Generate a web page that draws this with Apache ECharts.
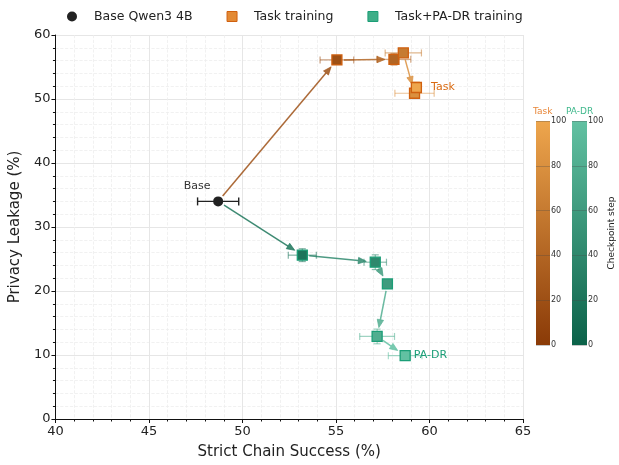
<!DOCTYPE html>
<html><head><meta charset="utf-8">
<script src="https://cdn.jsdelivr.net/npm/echarts@6/dist/echarts.min.js"></script>
<style>html,body{margin:0;padding:0;background:#fff}#c{width:619px;height:465px}</style>
</head><body><div id="c"></div>
<script>
// ---- data ----
const baseX = [48.7];
const baseY = [34.0];
const baseXErr = [1.1];
const baseYErr = [0.0];

const steps = [20, 40, 60, 80, 100];

const taskX = [55.05, 58.1, 58.6, 59.2, 59.3];
const taskY = [56.1, 56.2, 57.2, 50.9, 51.8];
const taskXErr = [0.9, 0.9, 0.97, 1.05, 0.15];
const taskYErr = [0.3, 0.9, 0.3, 0.2, 0.85];

const padrX = [53.2, 57.1, 57.75, 57.2, 58.7];
const padrY = [25.6, 24.5, 21.1, 12.9, 9.9];
const padrXErr = [0.75, 0.6, 0.2, 0.93, 0.9];
const padrYErr = [1.0, 1.15, 0.3, 1.15, 0.2];

const stepMin = 0, stepMax = 100, stepInterval = 20;

// ---- colour maps ----
function hex2rgb(h){h=h.replace('#','');return [0,2,4].map(i=>parseInt(h.substr(i,2),16));}
function lerpColor(a,b,t,alpha){const A=hex2rgb(a),B=hex2rgb(b);const c=A.map((v,i)=>Math.round(v+(B[i]-v)*t));return alpha==null?`rgb(${c.join(',')})`:`rgba(${c.join(',')},${alpha})`;}
const taskLo='#8a3a07', taskHi='#eea64d';
const padrLo='#0b6249', padrHi='#62c1a2';
const taskC=(s,a)=>lerpColor(taskLo,taskHi,(s-stepMin)/(stepMax-stepMin),a);
const padrC=(s,a)=>lerpColor(padrLo,padrHi,(s-stepMin)/(stepMax-stepMin),a);

function segs(xs,ys){
  const out=[];
  let px=baseX[0], py=baseY[0];
  xs.forEach((x,i)=>{out.push([px,py,x,ys[i],steps[i]]);px=x;py=ys[i];});
  return out;
}
function arrowRender(colorFn){
  return function(params, api){
    const p1=api.coord([api.value(0),api.value(1)]);
    const p2=api.coord([api.value(2),api.value(3)]);
    const dx=p2[0]-p1[0], dy=p2[1]-p1[1], len=Math.hypot(dx,dy);
    const sA=7, sB=9;
    const avail=len-sA-sB;
    if(avail<5) return null;
    const ux=dx/len, uy=dy/len, nx=-uy, ny=ux;
    const hl=Math.min(8,avail), hw=3.2;
    const S=[p1[0]+ux*sA,p1[1]+uy*sA];
    const E=[p1[0]+ux*(len-sB),p1[1]+uy*(len-sB)];
    const B=[E[0]-ux*hl,E[1]-uy*hl];
    const col=colorFn(api.value(4),0.85);
    return {type:'group',children:[
      {type:'line',shape:{x1:S[0],y1:S[1],x2:B[0],y2:B[1]},style:{stroke:col,lineWidth:1.5}},
      {type:'polygon',shape:{points:[E,[B[0]+nx*hw,B[1]+ny*hw],[B[0]-nx*hw,B[1]-ny*hw]]},style:{fill:col,stroke:col,lineWidth:0.8}}
    ]};
  };
}
function errRender(colorFn, cap, lw){
  return function(params, api){
    const x=api.value(0), y=api.value(1), ex=api.value(2), ey=api.value(3), s=api.value(4);
    const col=colorFn(s);
    const ch=[];
    const st={stroke:col,lineWidth:lw};
    if(ex>0){
      const l=api.coord([x-ex,y]), r=api.coord([x+ex,y]);
      ch.push({type:'line',shape:{x1:l[0],y1:l[1],x2:r[0],y2:r[1]},style:st});
      ch.push({type:'line',shape:{x1:l[0],y1:l[1]-cap,x2:l[0],y2:l[1]+cap},style:st});
      ch.push({type:'line',shape:{x1:r[0],y1:r[1]-cap,x2:r[0],y2:r[1]+cap},style:st});
    }
    if(ey>0){
      const t=api.coord([x,y+ey]), b=api.coord([x,y-ey]);
      ch.push({type:'line',shape:{x1:t[0],y1:t[1],x2:b[0],y2:b[1]},style:st});
      ch.push({type:'line',shape:{x1:t[0]-cap,y1:t[1],x2:t[0]+cap,y2:t[1]},style:st});
      ch.push({type:'line',shape:{x1:b[0]-cap,y1:b[1],x2:b[0]+cap,y2:b[1]},style:st});
    }
    return {type:'group',children:ch};
  };
}
const errData=(xs,ys,exs,eys)=>xs.map((x,i)=>[x,ys[i],exs[i],eys[i],steps[i]!=null?steps[i]:0]);

const F='DejaVu Sans';
const chart=echarts.init(document.getElementById('c'),null,{renderer:'canvas'});
const option={
  animation:false,
  textStyle:{fontFamily:F},
  legend:{
    left:62, top:5, itemWidth:10, itemHeight:10, itemGap:34,
    textStyle:{fontSize:12.5,color:'#222',fontFamily:F,padding:[0,0,0,12]},
    data:[
      {name:'Base Qwen3 4B',icon:'circle',itemStyle:{color:'#222',borderWidth:0}},
      {name:'Task training',icon:'rect',itemStyle:{color:'#e38a35',borderColor:'#d0600f',borderWidth:1}},
      {name:'Task+PA-DR training',icon:'rect',itemStyle:{color:'#3fae88',borderColor:'#1b9e77',borderWidth:1}}
    ]
  },
  grid:[
    {left:53,right:96,top:35,bottom:41},
    {left:536,top:121,width:14,height:224},
    {left:572,top:121,width:15,height:224}
  ],
  xAxis:[
    {gridIndex:0,type:'value',min:40,max:65,interval:5,
      axisLine:{onZero:false,lineStyle:{color:'#111',width:1}},
      axisTick:{length:4,lineStyle:{color:'#111'}},
      minorTick:{show:true,splitNumber:5,length:2.5,lineStyle:{color:'#111'}},
      axisLabel:{fontSize:13,color:'#222',margin:6,fontFamily:F},
      splitLine:{show:true,lineStyle:{color:'#e6e6e6',width:1}},
      minorSplitLine:{show:true,lineStyle:{color:'#ededed',type:'dashed',width:0.8}},
      name:'Strict Chain Success (%)',nameLocation:'middle',nameGap:26,
      nameTextStyle:{fontSize:15,color:'#222',fontFamily:F}},
    {gridIndex:1,type:'category',data:['Task'],show:false},
    {gridIndex:2,type:'category',data:['PA-DR'],show:false}
  ],
  yAxis:[
    {gridIndex:0,type:'value',min:0,max:60,interval:10,
      axisLine:{show:true,onZero:false,lineStyle:{color:'#111',width:1}},
      axisTick:{show:true,length:4,lineStyle:{color:'#111'}},
      minorTick:{show:true,splitNumber:5,length:2.5,lineStyle:{color:'#111'}},
      axisLabel:{fontSize:13,color:'#222',margin:5,fontFamily:F},
      splitLine:{show:true,lineStyle:{color:'#e6e6e6',width:1}},
      minorSplitLine:{show:true,lineStyle:{color:'#ededed',type:'dashed',width:0.8}},
      name:'Privacy Leakage (%)',nameLocation:'middle',nameGap:29,
      nameTextStyle:{fontSize:15,color:'#222',fontFamily:F}},
    {gridIndex:1,type:'value',min:stepMin,max:stepMax,interval:stepInterval,position:'right',z:5,
      axisLine:{show:false},axisTick:{show:true,inside:true,length:14,lineStyle:{color:'rgba(70,70,70,0.3)'}},
      axisLabel:{fontSize:8,color:'#333',margin:1,fontFamily:F},splitLine:{show:false}},
    {gridIndex:2,type:'value',min:stepMin,max:stepMax,interval:stepInterval,position:'right',z:5,
      axisLine:{show:false},axisTick:{show:true,inside:true,length:15,lineStyle:{color:'rgba(70,70,70,0.3)'}},
      axisLabel:{fontSize:8,color:'#333',margin:1,fontFamily:F},splitLine:{show:false},
      name:'Checkpoint step',nameLocation:'middle',nameGap:20,nameRotate:90,
      nameTextStyle:{fontSize:9,color:'#222',fontFamily:F}}
  ],
  graphic:[
    {type:'text',left:533,top:107,style:{text:'Task',fill:'#e8873a',fontSize:9,fontFamily:F}},
    {type:'text',left:566,top:107,style:{text:'PA-DR',fill:'#3fb88c',fontSize:9,fontFamily:F}}
  ],
  series:[
    {type:'custom',name:'taskArrows',coordinateSystem:'cartesian2d',renderItem:arrowRender(taskC),
      data:segs(taskX,taskY),encode:{x:[0,2],y:[1,3]},z:1,silent:true},
    {type:'custom',name:'padrArrows',coordinateSystem:'cartesian2d',renderItem:arrowRender(padrC),
      data:segs(padrX,padrY),encode:{x:[0,2],y:[1,3]},z:1,silent:true},
    {type:'custom',name:'baseErr',coordinateSystem:'cartesian2d',renderItem:errRender(()=>'#222',4,1.4),
      data:baseX.map((x,i)=>[x,baseY[i],baseXErr[i],baseYErr[i],0]),encode:{x:0,y:1},z:2,silent:true},
    {type:'custom',name:'taskErr',coordinateSystem:'cartesian2d',renderItem:errRender(s=>taskC(s,0.55),3.5,1.2),
      data:errData(taskX,taskY,taskXErr,taskYErr),encode:{x:0,y:1},z:2,silent:true},
    {type:'custom',name:'padrErr',coordinateSystem:'cartesian2d',renderItem:errRender(s=>padrC(s,0.55),3.5,1.2),
      data:errData(padrX,padrY,padrXErr,padrYErr),encode:{x:0,y:1},z:2,silent:true},
    {type:'scatter',name:'Base Qwen3 4B',symbol:'circle',symbolSize:10,z:3,
      itemStyle:{color:'#222',opacity:1},
      data:baseX.map((x,i)=>({value:[x,baseY[i]],label:{show:true,formatter:'Base',position:'top',distance:5,offset:[-21,0],fontSize:11,color:'#333',fontFamily:F}}))},
    {type:'scatter',name:'Task training',symbol:'rect',symbolSize:10,z:3,
      itemStyle:{color:'#e38a35',borderColor:'#d0600f',borderWidth:1.3,opacity:1},
      data:taskX.map((x,i)=>({value:[x,taskY[i]],itemStyle:{color:taskC(steps[i])},
        label:i===taskX.length-1?{show:true,formatter:'Task',position:'right',distance:9,fontSize:11,color:'#d96a12',fontFamily:F}:{show:false}}))},
    {type:'scatter',name:'Task+PA-DR training',symbol:'rect',symbolSize:10,z:3,
      itemStyle:{color:'#3fae88',borderColor:'#1b9e77',borderWidth:1.3,opacity:1},
      data:padrX.map((x,i)=>({value:[x,padrY[i]],itemStyle:{color:padrC(steps[i])},
        label:i===padrX.length-1?{show:true,formatter:'PA-DR',position:'right',distance:3,fontSize:11,color:'#1b9e77',fontFamily:F}:{show:false}}))},
    {type:'bar',xAxisIndex:1,yAxisIndex:1,data:[stepMax],barWidth:'100%',silent:true,
      itemStyle:{color:new echarts.graphic.LinearGradient(0,0,0,1,[{offset:0,color:taskHi},{offset:1,color:taskLo}])}},
    {type:'bar',xAxisIndex:2,yAxisIndex:2,data:[stepMax],barWidth:'100%',silent:true,
      itemStyle:{color:new echarts.graphic.LinearGradient(0,0,0,1,[{offset:0,color:padrHi},{offset:1,color:padrLo}])}}
  ]
};
chart.setOption(option);
</script></body></html>
